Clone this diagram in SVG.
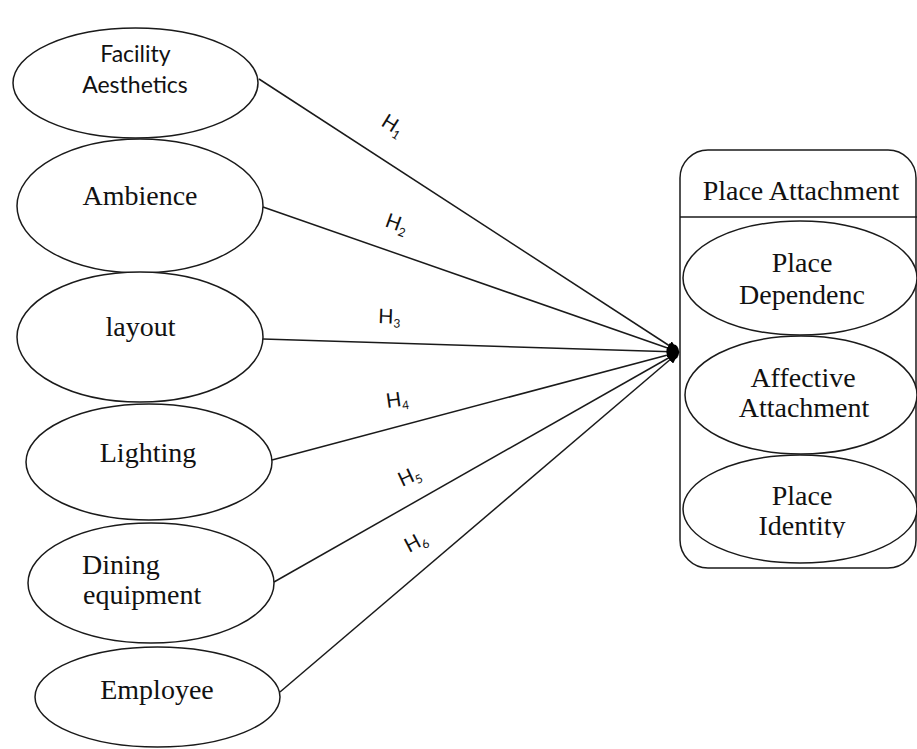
<svg xmlns="http://www.w3.org/2000/svg" width="917" height="749" viewBox="0 0 917 749">
  <style>
    .shape { fill: #ffffff; stroke: #1a1a1a; stroke-width: 1.5; }
    .link { fill: none; stroke: #1a1a1a; stroke-width: 1.5; }
    .serif { font-family: "Liberation Serif", "Times New Roman", serif; font-size: 28px; fill: #111; }
    .sans { font-family: Lato, "Liberation Sans", sans-serif; font-size: 23px; fill: #111; }
    .hyp { font-family: Lato, "Liberation Sans", sans-serif; font-size: 20px; fill: #111; }
    .sub { font-size: 12px; }
  </style>
  <defs>
    <marker id="head" viewBox="0 0 12 10" refX="12" refY="5" markerWidth="12" markerHeight="10" markerUnits="userSpaceOnUse" orient="auto">
      <path d="M0,0 L12,5 L0,10 Z" fill="#000"/>
    </marker>
    <clipPath id="identityClip">
      <rect x="680" y="455" width="240" height="83"/>
    </clipPath>
  </defs>

  <!-- Place Attachment container -->
  <g id="place-attachment">
    <rect class="shape" x="680" y="150" width="236" height="418" rx="28" ry="28"/>
    <line class="link" x1="680" y1="217" x2="917" y2="217"/>
    <text class="serif" x="801" y="200" text-anchor="middle">Place Attachment</text>
  </g>

  <g id="place-dependence">
    <ellipse class="shape" cx="800" cy="278" rx="117" ry="57"/>
    <text class="serif" x="802" y="272" text-anchor="middle">Place</text>
    <text class="serif" x="802" y="304" text-anchor="middle">Dependenc</text>
  </g>

  <g id="affective-attachment">
    <ellipse class="shape" cx="801" cy="395" rx="116" ry="59"/>
    <text class="serif" x="803" y="387" text-anchor="middle">Affective</text>
    <text class="serif" x="804" y="417" text-anchor="middle">Attachment</text>
  </g>

  <g id="place-identity">
    <ellipse class="shape" cx="800" cy="509" rx="117" ry="54"/>
    <text class="serif" x="802" y="505" text-anchor="middle">Place</text>
    <text class="serif" x="802" y="535" text-anchor="middle" clip-path="url(#identityClip)">Identity</text>
  </g>

  <!-- Antecedent constructs -->
  <g id="facility-aesthetics">
    <ellipse class="shape" cx="135.5" cy="83" rx="122.5" ry="55"/>
    <text class="sans" x="135.5" y="62" text-anchor="middle">Facility</text>
    <text class="sans" x="135" y="93" text-anchor="middle">Aesthetics</text>
  </g>

  <g id="ambience">
    <ellipse class="shape" cx="140" cy="206" rx="123" ry="67"/>
    <text class="serif" x="140" y="205" text-anchor="middle">Ambience</text>
  </g>

  <g id="layout">
    <ellipse class="shape" cx="140" cy="337" rx="123" ry="65"/>
    <text class="serif" x="140.5" y="336" text-anchor="middle">layout</text>
  </g>

  <g id="lighting">
    <ellipse class="shape" cx="149" cy="462" rx="123" ry="58"/>
    <text class="serif" x="148" y="462" text-anchor="middle">Lighting</text>
  </g>

  <g id="dining-equipment">
    <ellipse class="shape" cx="151" cy="583" rx="123" ry="60"/>
    <text class="serif" x="82" y="574">Dining</text>
    <text class="serif" x="83" y="604">equipment</text>
  </g>

  <g id="employee">
    <ellipse class="shape" cx="157.5" cy="697" rx="122.5" ry="50"/>
    <text class="serif" x="157" y="699" text-anchor="middle">Employee</text>
  </g>

  <!-- Hypothesised paths converging on the container -->
  <g id="connectors">
    <line class="link" x1="259" y1="79" x2="679" y2="352" marker-end="url(#head)"/>
    <line class="link" x1="263" y1="207" x2="679" y2="352" marker-end="url(#head)"/>
    <line class="link" x1="263" y1="339" x2="679" y2="352" marker-end="url(#head)"/>
    <line class="link" x1="272" y1="460" x2="679" y2="352" marker-end="url(#head)"/>
    <line class="link" x1="274" y1="582" x2="679" y2="352" marker-end="url(#head)"/>
    <line class="link" x1="280" y1="692" x2="679" y2="352" marker-end="url(#head)"/>
    <ellipse cx="674" cy="352" rx="5" ry="7.5" fill="#000"/>

    <text class="hyp" transform="translate(380,125) rotate(32)">H<tspan class="sub" dy="4">1</tspan></text>
    <text class="hyp" transform="translate(384,226) rotate(20)">H<tspan class="sub" dy="4">2</tspan></text>
    <text class="hyp" transform="translate(378,323) rotate(2)">H<tspan class="sub" dy="4">3</tspan></text>
    <text class="hyp" transform="translate(387,408) rotate(-8)">H<tspan class="sub" dy="4">4</tspan></text>
    <text class="hyp" transform="translate(402,487) rotate(-25)">H<tspan class="sub" dy="4">5</tspan></text>
    <text class="hyp" transform="translate(409,553) rotate(-28)">H<tspan class="sub" dy="4">6</tspan></text>
  </g>
</svg>
